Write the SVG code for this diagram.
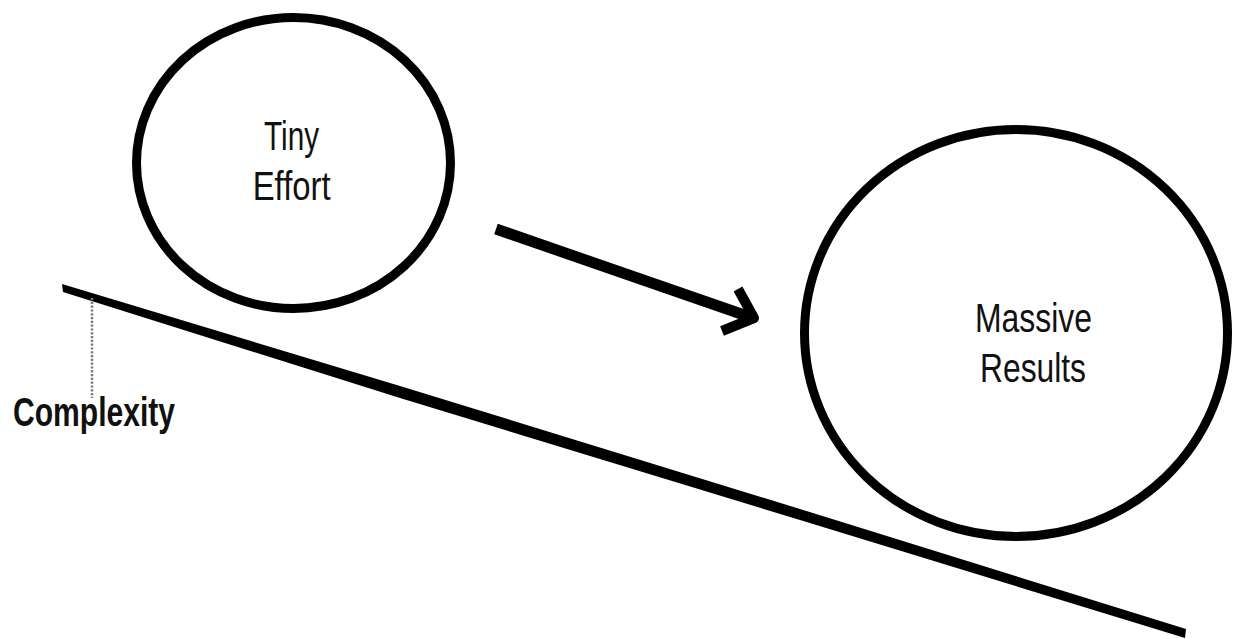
<svg xmlns="http://www.w3.org/2000/svg" width="1236" height="639" viewBox="0 0 1236 639">
  <style>
    .ring { fill: none; stroke: #000; stroke-width: 9; }
    .label { font-family: "Liberation Sans", Arial, sans-serif; font-size: 40px; fill: #111; text-anchor: middle; }
    .axis-label { font-family: "Liberation Sans", Arial, sans-serif; font-size: 41px; font-weight: bold; fill: #111; }
    .conn { fill: none; stroke: #000; }
  </style>
  <rect width="1236" height="639" fill="#fff"/>

  <g id="slope">
    <polygon points="62,284 400,386 800,509 1186,629 1185,638 800,520 400,398 63,292" fill="#000"/>
  </g>

  <g id="complexity">
    <line x1="92" y1="298" x2="92" y2="398" stroke="#7a7a7a" stroke-width="2.5" stroke-dasharray="2.2 1.6"/>
    <text class="axis-label" x="13" y="426" textLength="162" lengthAdjust="spacingAndGlyphs">Complexity</text>
  </g>

  <g id="tiny-effort">
    <ellipse class="ring" cx="293.5" cy="163" rx="157" ry="145.5"/>
    <text class="label" x="291.5" y="150" textLength="55" lengthAdjust="spacingAndGlyphs">Tiny</text>
    <text class="label" x="291.7" y="200" textLength="78" lengthAdjust="spacingAndGlyphs">Effort</text>
  </g>

  <g id="massive-results">
    <ellipse class="ring" cx="1016" cy="333" rx="211.5" ry="203.5"/>
    <text class="label" x="1033.5" y="331.7" textLength="117" lengthAdjust="spacingAndGlyphs">Massive</text>
    <text class="label" x="1033" y="381.7" textLength="106" lengthAdjust="spacingAndGlyphs">Results</text>
  </g>

  <g id="connectors">
    <line class="conn" x1="496" y1="229" x2="750" y2="317" stroke-width="11"/>
    <polyline class="conn" points="738,289 754,318 722,331" stroke-width="10" stroke-linejoin="round"/>
  </g>
</svg>
